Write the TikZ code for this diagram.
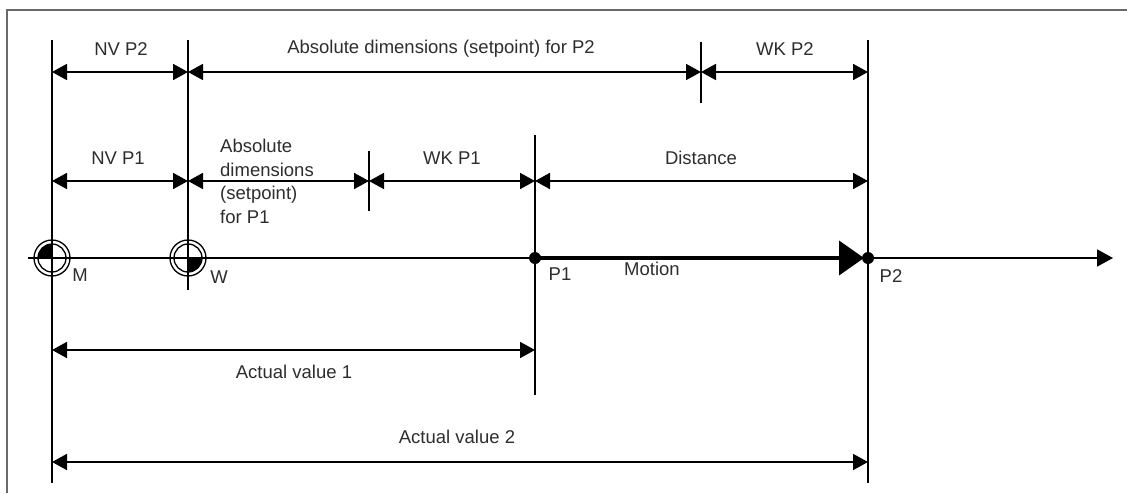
\documentclass[tikz,border=0pt]{standalone}
\usepackage{fontspec}
\setmainfont{Liberation Sans}
\usetikzlibrary{arrows.meta, positioning, calc}
\definecolor{framegray}{RGB}{105,105,105}
\definecolor{labelgray}{RGB}{45,45,45}
\tikzset{
	dimarrow/.style={{Triangle[length=15pt,width=16pt]}-{Triangle[length=15pt,width=16pt]}, line width=1.8pt},
	refline/.style={line width=1.4pt},
	lbl/.style={text=labelgray, inner sep=0pt, font=\fontsize{18.5}{23.5}\selectfont}
}

\begin{document}
\begin{tikzpicture}[x=1pt,y=-1pt]
	\useasboundingbox (0,0) rectangle (1127,493);
	% frame
	\draw[framegray,line width=2pt] (7,493)--(7,10)--(1127,10);
	% reference points on the axis
	\coordinate (M) at (52,258);
	\coordinate (W) at (188,258);
	\coordinate (P1) at (535,258);
	\coordinate (P2) at (868,258);
	\coordinate (sepP1) at (369,181);
	\coordinate (sepP2) at (701,72);
	% vertical lines
	\draw[line width=2.6pt] (52,40)--(52,483);
	\draw[line width=1.8pt] (188,40)--(188,290);
	\draw[refline] (535,135)--(535,395);
	\draw[refline] (868,40)--(868,483);
	\draw[refline] (369,151)--(369,211);
	\draw[refline] (701,42)--(701,103);
	% axis
	\coordinate (axL) at (28,258);
	\coordinate (axR) at (1113,258);
	\draw[line width=1.8pt,-{Triangle[length=16pt,width=17pt]}] (axL)--(axR);
	% dimensions, top row
	\draw[dimarrow] (M|-sepP2)--(W|-sepP2);
	\draw[dimarrow] (W|-sepP2)--(sepP2);
	\draw[dimarrow] (sepP2)--(P2|-sepP2);
	\node[lbl] (nvp2) at (121,49) {NV P2};
	\node[lbl] (absp2) at (441,49) {Absolute dimensions (setpoint) for P2};
	\node[lbl] (wkp2) at (785,49) {WK P2};
	% dimensions, second row
	\draw[dimarrow] (M|-sepP1)--(W|-sepP1);
	\draw[dimarrow] (W|-sepP1)--(sepP1);
	\draw[dimarrow] (sepP1)--(P1|-sepP1);
	\draw[dimarrow] (P1|-sepP1)--(P2|-sepP1);
	\node[lbl] (nvp1) at (118,158) {NV P1};
	\node[lbl,align=left,anchor=north west] (absp1) at (220,139) {Absolute\\dimensions\\(setpoint)\\for P1};
	\node[lbl] (wkp1) at (452,158) {WK P1};
	\node[lbl] (dist) at (701,158) {Distance};
	% zero points
	\draw[line width=1.3pt] (M) circle (18) (M) circle (14);
	\fill (M) -- ++(180:14) arc (180:270:14) -- cycle;
	\draw[line width=1.3pt] (W) circle (18) (W) circle (14);
	\fill (W) -- ++(0:14) arc (0:90:14) -- cycle;
	\node[lbl] (mlbl) at (80,275) {M};
	\node[lbl] (wlbl) at (219,277) {W};
	% motion
	\draw[line width=4pt,-{Triangle[length=25pt,width=34pt]},shorten >=4pt] (P1)--(P2);
	\fill (P1) circle (6);
	\fill (P2) circle (6);
	\node[lbl] (p1lbl) at (560,274) {P1};
	\node[lbl] (p2lbl) at (891,276) {P2};
	\node[lbl] (motion) at (652,269) {Motion};
	% actual values
	\coordinate (act1) at (52,350);
	\coordinate (act2) at (52,462);
	\draw[dimarrow] (act1)--(P1|-act1);
	\node[lbl] (act1lbl) at (294,372) {Actual value 1};
	\draw[dimarrow] (act2)--(P2|-act2);
	\node[lbl] (act2lbl) at (457,437) {Actual value 2};
\end{tikzpicture}
\end{document}
